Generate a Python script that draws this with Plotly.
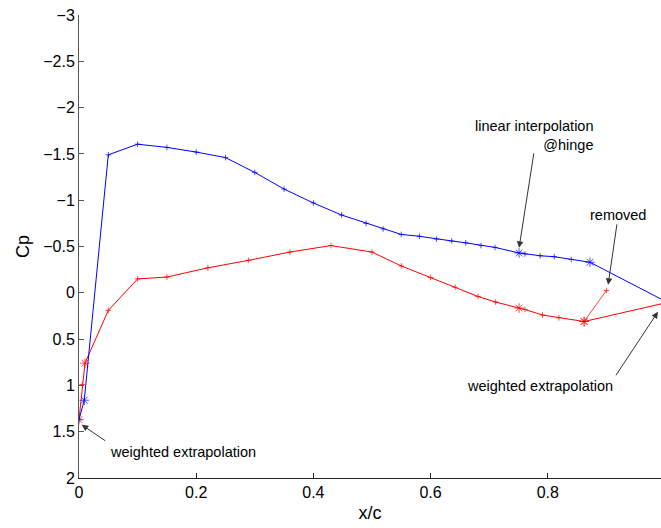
import plotly.graph_objects as go

# Blue series (upper surface)
blue_x = [0.0, 0.009, 0.05, 0.10, 0.15, 0.20, 0.25, 0.30, 0.35, 0.40, 0.448, 0.49, 0.519,
          0.55, 0.581, 0.61, 0.636, 0.66, 0.686, 0.71, 0.751, 0.761, 0.787, 0.811, 0.84, 0.872, 1.0]
blue_cp = [1.37, 1.16, -1.49, -1.605, -1.57, -1.52, -1.46, -1.30, -1.12, -0.97, -0.84, -0.75, -0.69,
           -0.63, -0.61, -0.58, -0.56, -0.54, -0.51, -0.49, -0.43, -0.42, -0.40, -0.39, -0.36, -0.33, 0.09]
blue_star = [0, 1, 0, 0, 0, 0, 0, 0, 0, 0, 0, 0, 0, 0, 0, 0, 0, 0, 0, 0, 1, 0, 0, 0, 0, 1, 0]

# Red series (lower surface)
red_x = [0.0, 0.0056, 0.0102, 0.05, 0.10, 0.15, 0.22, 0.289, 0.36, 0.43, 0.50, 0.55, 0.60,
         0.642, 0.681, 0.711, 0.751, 0.761, 0.791, 0.819, 0.862, 1.0]
red_cp = [1.37, 0.99, 0.76, 0.19, -0.15, -0.17, -0.27, -0.35, -0.44, -0.51, -0.44, -0.29, -0.165,
          -0.06, 0.04, 0.10, 0.165, 0.18, 0.24, 0.27, 0.31, 0.11]
red_star = [1, 0, 1, 0, 0, 0, 0, 0, 0, 0, 0, 0, 0, 0, 0, 0, 1, 0, 0, 0, 1, 0]

# Removed point segment
removed_x = [0.862, 0.90]
removed_cp = [0.31, -0.025]

x_ticks = [0, 0.2, 0.4, 0.6, 0.8, 1.0]
y_ticks = [-3, -2.5, -2, -1.5, -1, -0.5, 0, 0.5, 1, 1.5, 2]


def syms(flags):
    return ["asterisk-open" if f else "cross-thin-open" for f in flags]


def sizes(flags):
    return [8 if f else 4 for f in flags]


fig = go.Figure()
fig.add_trace(go.Scatter(x=removed_x, y=removed_cp, mode="lines+markers",
                         line=dict(color="#ff4040", width=1),
                         marker=dict(symbol=["asterisk-open", "cross-thin-open"], size=[8, 4],
                                     color="#ff0000", line=dict(color="#ff0000", width=1)),
                         showlegend=False))
fig.add_trace(go.Scatter(x=red_x, y=red_cp, mode="lines+markers",
                         line=dict(color="#ff0000", width=1),
                         marker=dict(symbol=syms(red_star), size=sizes(red_star), color="#ff0000",
                                     line=dict(color="#ff0000", width=1)),
                         showlegend=False))
fig.add_trace(go.Scatter(x=blue_x, y=blue_cp, mode="lines+markers",
                         line=dict(color="#0000ff", width=1),
                         marker=dict(symbol=syms(blue_star), size=sizes(blue_star), color="#0000ff",
                                     line=dict(color="#0000ff", width=1)),
                         showlegend=False))

afont = dict(family="Liberation Sans, Arial, sans-serif", size=14.5, color="black")
arrow = dict(showarrow=True, arrowhead=2, arrowsize=1.3, arrowwidth=1, arrowcolor="#333333",
             text="", standoff=0, axref="pixel", ayref="pixel")

annotations = [
    dict(x=0.882, y=-1.70, xref="x", yref="y", text="linear interpolation<br>@hinge",
         showarrow=False, xanchor="right", yanchor="middle", align="right", font=afont),
    dict(x=0.751, y=-0.486, xref="x", yref="y", ax=15, ay=-96, **arrow),
    dict(x=0.920, y=-0.842, xref="x", yref="y", text="removed", showarrow=False,
         xanchor="center", yanchor="middle", font=afont),
    dict(x=0.903, y=-0.086, xref="x", yref="y", ax=9, ay=-62, **arrow),
    dict(x=0.787, y=1.004, xref="x", yref="y", text="weighted extrapolation", showarrow=False,
         xanchor="center", yanchor="middle", font=afont),
    dict(x=0.988, y=0.205, xref="x", yref="y", ax=-43, ay=65, **arrow),
    dict(x=0.1775, y=1.717, xref="x", yref="y", text="weighted extrapolation", showarrow=False,
         xanchor="center", yanchor="middle", font=afont),
    dict(x=0.0046, y=1.425, xref="x", yref="y", ax=25, ay=17, **arrow),
]

fig.update_layout(
    width=661, height=528,
    margin=dict(l=79, r=0, t=15, b=50),
    plot_bgcolor="white", paper_bgcolor="white",
    annotations=annotations,
    font=dict(family="Liberation Sans, Arial, sans-serif", size=16, color="black"),
)
fig.update_xaxes(range=[0, 0.9932], tickvals=x_ticks, ticktext=["0", "0.2", "0.4", "0.6", "0.8", "1"],
                 ticks="inside", ticklen=5, tickcolor="#222222", showgrid=False, zeroline=False,
                 showline=True, linecolor="#222222", linewidth=1, mirror=False,
                 tickfont=dict(size=16),
                 title=dict(text="x/c", font=dict(size=18), standoff=6))
fig.update_yaxes(range=[2, -3], tickvals=y_ticks,
                 ticks="inside", ticklen=5, tickcolor="#555555", showgrid=False, zeroline=False,
                 showline=True, linecolor="#555555", linewidth=1, mirror=False,
                 tickfont=dict(size=16),
                 title=dict(text="Cp", font=dict(size=18), standoff=8))

fig.write_html("out.html")
